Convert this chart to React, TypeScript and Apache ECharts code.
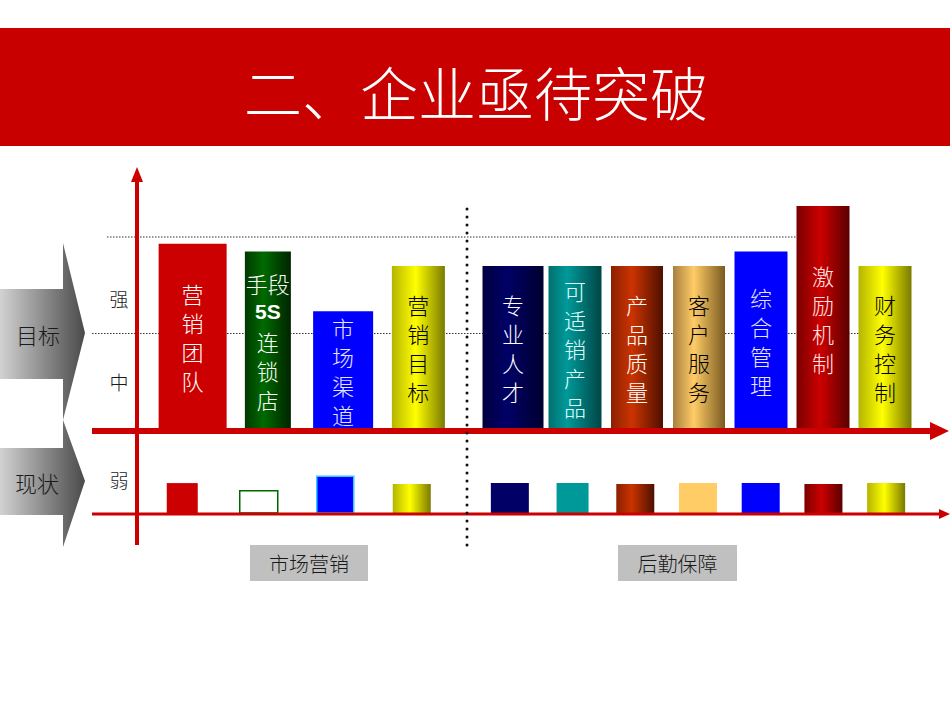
import React, { useEffect, useRef } from 'react';
import * as echarts from 'echarts';

const title = '二、企业亟待突破';
const rowLabels = ['目标', '现状'];
const levelLabels = ['弱', '中', '强'];
const groupLabels = ['市场营销', '后勤保障'];

// two groups of capabilities
const marketingItems = ['营销团队', '手段5S连锁店', '市场渠道', '营销目标'];
const supportItems = ['专业人才', '可适销产品', '产品质量', '客户服务', '综合管理', '激励机制', '财务控制'];

// 目标: 1 = 中, 2 = 强
const marketingTarget = [1.93, 1.85, 1.23, 1.7];
const supportTarget = [1.7, 1.7, 1.7, 1.7, 1.85, 2.32, 1.7];

// 现状 (弱)
const marketingCurrent = [0.31, 0.23, 0.38, 0.3];
const supportCurrent = [0.31, 0.31, 0.3, 0.31, 0.31, 0.3, 0.31];

const RED = '#CC0000';
const CJK = '"Noto Sans CJK SC", sans-serif';

const flat = (c: string) => () => c;
const cyl = (l: string, m: string, r: string, at = 0.4) => () =>
  new echarts.graphic.LinearGradient(0, 0, 1, 0, [
    { offset: 0, color: l },
    { offset: at, color: m },
    { offset: 1, color: r },
  ]);

const green = cyl('#003800', '#006a00', '#002400');
const yellow = cyl('#b4b400', '#ffff00', '#7a7a00', 0.45);
const navy = cyl('#000040', '#000066', '#000030');
const teal = cyl('#007070', '#009999', '#004545', 0.35);
const rust = cyl('#8a2000', '#cc3300', '#4d1000', 0.4);
const tan = cyl('#a88040', '#ffcc66', '#7a5a20', 0.4);
const wine = cyl('#7a0000', '#cc0000', '#5a0000', 0.45);

type BarStyle = { fill: () => any; stroke?: string; text?: string };

const marketingTop: BarStyle[] = [
  { fill: flat(RED), text: '#ffffff' },
  { fill: green, text: '#ffffff' },
  { fill: flat('#0000FF'), text: '#e6e6ff' },
  { fill: yellow, text: '#000000' },
];
const supportTop: BarStyle[] = [
  { fill: navy, text: '#ffffff' },
  { fill: teal, text: '#e0ffff' },
  { fill: rust, text: '#ffffff' },
  { fill: tan, text: '#000000' },
  { fill: flat('#0000FF'), text: '#e6e6ff' },
  { fill: wine, text: '#ffe6e6' },
  { fill: yellow, text: '#000000' },
];
const marketingLow: BarStyle[] = [
  { fill: flat(RED) },
  { fill: flat('#ffffff'), stroke: '#006600' },
  { fill: flat('#0000FF'), stroke: '#33ccff' },
  { fill: yellow },
];
const supportLow: BarStyle[] = [
  { fill: flat('#000066') },
  { fill: flat('#009999') },
  { fill: rust },
  { fill: flat('#FFCC66') },
  { fill: flat('#0000FF') },
  { fill: wine },
  { fill: yellow },
];

const marketingTopW = [68, 46, 60, 53];
const supportTopW = [61, 53, 52, 52, 53, 53, 53];
const marketingLowW = [31, 38, 37, 38];
const supportLowW = [38, 32, 38, 38, 38, 38, 38];

const vertical = (name: string) =>
  (name.match(/手段|[A-Za-z0-9]+|./g) ?? [])
    .map((t) => (/^[A-Za-z0-9]+$/.test(t) ? `{en|${t}}` : t))
    .join('\n');

const makeRender = (styles: BarStyle[], widths: number[], names?: string[]) => (params: any, api: any) => {
  const i = params.dataIndex;
  const top = api.coord([api.value(0), api.value(1)]);
  const base = api.coord([api.value(0), 0]);
  const w = widths[i];
  const s = styles[i];
  const children: any[] = [
    {
      type: 'rect',
      shape: { x: top[0] - w / 2, y: top[1], width: w, height: base[1] - top[1] },
      style: { fill: s.fill(), stroke: s.stroke ?? 'none', lineWidth: s.stroke ? 1.5 : 0 },
    },
  ];
  if (names) {
    children.push({
      type: 'text',
      style: {
        text: vertical(names[i]),
        x: top[0],
        y: (top[1] + base[1]) / 2,
        align: 'center',
        verticalAlign: 'middle',
        textAlign: 'center',
        textVerticalAlign: 'middle',
        fill: s.text,
        font: `300 22px ${CJK}`,
        lineHeight: 29,
        rich: {
          en: { font: 'bold 21px "Liberation Sans", Arial', lineHeight: 29, fill: s.text },
        },
      },
    });
  }
  return { type: 'group', children };
};

const label = (text: string, x: number, y: number, size: number, color = '#1a1a1a', z = 5) => ({
  type: 'text',
  z,
  style: {
    text,
    x,
    y,
    align: 'center',
    verticalAlign: 'middle',
    textAlign: 'center',
    textVerticalAlign: 'middle',
    fill: color,
    font: `300 ${size}px ${CJK}`,
  },
});

const App: React.FC = () => {
  const chartRef = useRef<HTMLDivElement>(null);

  useEffect(() => {
    document.body.style.margin = '0';
    const chart = echarts.init(chartRef.current!, null, { renderer: 'svg' });

    const option = {
      animation: false,
      grid: [
        { left: 155, top: 198.4, width: 301, height: 231.6 },
        { left: 482, top: 198.4, width: 434, height: 231.6 },
        { left: 144, top: 464.75, width: 306, height: 48.25 },
        { left: 478.5, top: 464.75, width: 439, height: 48.25 },
      ],
      xAxis: [0, 1, 2, 3].map((i) => ({
        type: 'category',
        gridIndex: i,
        data: i % 2 === 0 ? marketingItems : supportItems,
        show: false,
      })),
      yAxis: [0, 1, 2, 3].map((i) => ({
        type: 'value',
        gridIndex: i,
        min: 0,
        max: i < 2 ? 2.4 : 0.5,
        show: false,
      })),
      series: [
        {
          type: 'custom',
          xAxisIndex: 0,
          yAxisIndex: 0,
          encode: { x: 0, y: 1 },
          data: marketingTarget.map((v, i) => [i, v]),
          renderItem: makeRender(marketingTop, marketingTopW, marketingItems),
        },
        {
          type: 'custom',
          xAxisIndex: 1,
          yAxisIndex: 1,
          encode: { x: 0, y: 1 },
          data: supportTarget.map((v, i) => [i, v]),
          renderItem: makeRender(supportTop, supportTopW, supportItems),
        },
        {
          type: 'custom',
          xAxisIndex: 2,
          yAxisIndex: 2,
          encode: { x: 0, y: 1 },
          data: marketingCurrent.map((v, i) => [i, v]),
          renderItem: makeRender(marketingLow, marketingLowW),
        },
        {
          type: 'custom',
          xAxisIndex: 3,
          yAxisIndex: 3,
          encode: { x: 0, y: 1 },
          data: supportCurrent.map((v, i) => [i, v]),
          renderItem: makeRender(supportLow, supportLowW),
        },
      ],
    };

    chart.setOption(option);

    // reference lines and axes follow the value scale of the grids
    const yStrong = chart.convertToPixel({ yAxisIndex: 0 }, 2) as number;
    const yMid = chart.convertToPixel({ yAxisIndex: 0 }, 1) as number;
    const yBase = (chart.convertToPixel({ yAxisIndex: 0 }, 0) as number) + 1;
    const yLow = (chart.convertToPixel({ yAxisIndex: 2 }, 0) as number) + 1;

    const arrowFill = () =>
      new echarts.graphic.LinearGradient(0, 0, 1, 0, [
        { offset: 0, color: '#d2d2d2' },
        { offset: 1, color: '#4a4a4a' },
      ]);

    chart.setOption({
      graphic: {
        elements: [
          { type: 'rect', z: 0, shape: { x: 0, y: 28, width: 950, height: 118 }, style: { fill: '#C80000' } },
          label(title, 476, 91, 58, '#ffffff'),
          {
            type: 'polygon',
            z: 0,
            shape: { points: [[0, 289], [63, 289], [63, 243], [85, 333], [63, 420], [63, 379], [0, 379]] },
            style: { fill: arrowFill() },
          },
          {
            type: 'polygon',
            z: 0,
            shape: { points: [[0, 448], [63, 448], [63, 420], [85, 481], [63, 547], [63, 515], [0, 515]] },
            style: { fill: arrowFill() },
          },
          label(rowLabels[0], 38, 334, 22),
          label(rowLabels[1], 37, 482, 22),
          label(levelLabels[2], 119, 298, 19),
          label(levelLabels[1], 119, 381, 19),
          label(levelLabels[0], 119, 479, 19),
          {
            type: 'line',
            z: 0,
            shape: { x1: 107, y1: yStrong, x2: 820, y2: yStrong },
            style: { stroke: '#333333', lineWidth: 1, lineDash: [1.5, 1.5] },
          },
          {
            type: 'line',
            z: 0,
            shape: { x1: 92, y1: yMid, x2: 880, y2: yMid },
            style: { stroke: '#333333', lineWidth: 1, lineDash: [1.5, 1.5] },
          },
          {
            type: 'line',
            z: 12,
            shape: { x1: 467, y1: 209, x2: 467, y2: 553 },
            style: { stroke: '#111111', lineWidth: 3, lineDash: [0, 8], lineCap: 'round' },
          },
          {
            type: 'line',
            z: 10,
            shape: { x1: 137, y1: 545, x2: 137, y2: 178 },
            style: { stroke: RED, lineWidth: 4 },
          },
          { type: 'polygon', z: 10, shape: { points: [[131, 182], [137, 167], [143, 182]] }, style: { fill: RED } },
          {
            type: 'line',
            z: 10,
            shape: { x1: 92, y1: yBase, x2: 934, y2: yBase },
            style: { stroke: RED, lineWidth: 6 },
          },
          {
            type: 'polygon',
            z: 10,
            shape: { points: [[930, yBase - 9], [949, yBase], [930, yBase + 9]] },
            style: { fill: RED },
          },
          {
            type: 'line',
            z: 10,
            shape: { x1: 92, y1: yLow, x2: 942, y2: yLow },
            style: { stroke: RED, lineWidth: 3 },
          },
          {
            type: 'polygon',
            z: 10,
            shape: { points: [[939, yLow - 5], [950, yLow], [939, yLow + 5]] },
            style: { fill: RED },
          },
          { type: 'rect', z: 0, shape: { x: 250, y: 545, width: 118, height: 36 }, style: { fill: '#c0c0c0' } },
          label(groupLabels[0], 309, 563, 20),
          { type: 'rect', z: 0, shape: { x: 618, y: 545, width: 119, height: 36 }, style: { fill: '#c0c0c0' } },
          label(groupLabels[1], 677.5, 563, 20),
        ],
      },
    });

    return () => {
      chart.dispose();
    };
  }, []);

  return <div ref={chartRef} style={{ width: '950px', height: '714px' }} />;
};

export default App;
